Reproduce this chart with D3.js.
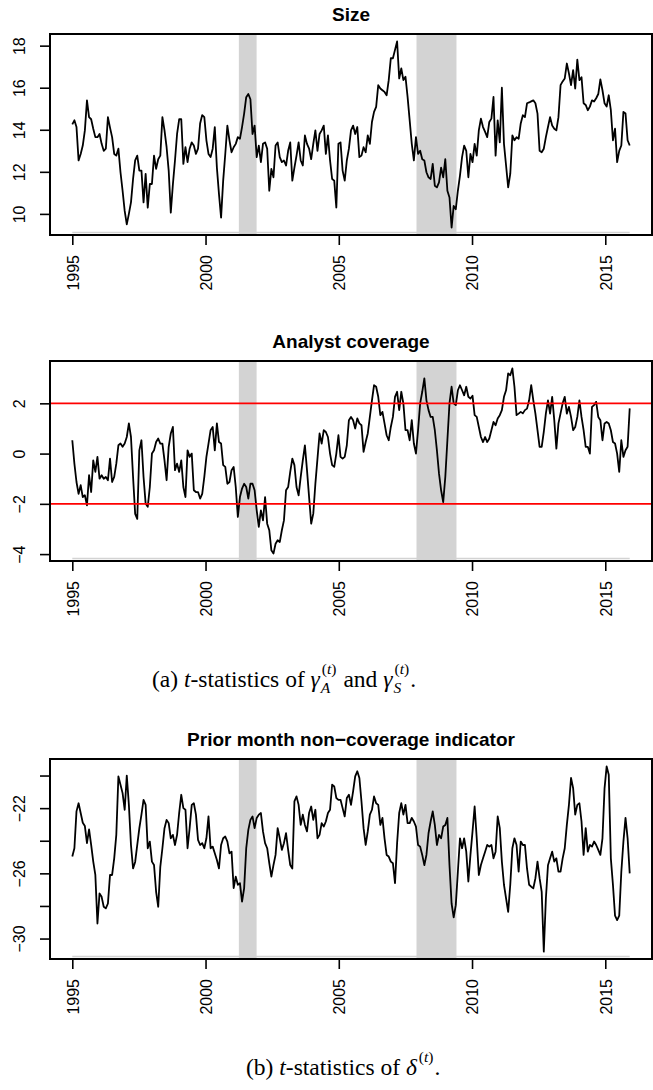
<!DOCTYPE html>
<html>
<head>
<meta charset="utf-8">
<script src="https://d3js.org/d3.v7.min.js"></script>
<style>
body { margin: 0; background: #fff; }
</style>
</head>
<body>
<script>
// monthly t-statistics, Jan 1995 .. Dec 2015
var startYear = 1995;
var endYear = 2015 + 11 / 12;
var yearTicks = [1995, 2000, 2005, 2010, 2015];
var recessions = [[2001 + 3 / 12, 2001 + 11 / 12], [2007 + 11 / 12, 2009 + 5 / 12]];

var sizeValues = [
 14.26,14.45,14.13,12.54,12.85,13.25,13.97,15.4,14.6,14.5,
 14.05,13.65,13.65,13.8,13.33,13.0,13.1,14.6,14.1,13.65,
 12.85,12.77,13.1,11.98,11.1,10.14,9.5,10.0,10.55,11.66,
 12.54,12.77,12.06,12.06,10.55,11.9,10.3,11.42,11.42,12.77,
 12.14,12.6,12.77,14.6,13.97,13.17,12.06,10.06,11.4,12.54,
 13.8,14.5,14.5,12.38,13.17,12.46,13.1,13.4,13.25,12.85,
 13.1,14.3,14.7,14.6,13.5,12.85,12.7,13.1,14.13,12.2,
 10.94,9.82,11.58,12.85,14.2,13.5,12.93,13.17,13.33,13.65,
 13.57,14.13,14.77,15.55,15.7,15.45,13.8,14.2,12.7,13.25,
 12.46,13.33,13.4,13.1,11.1,12.14,11.74,13.25,13.4,12.7,
 12.46,12.54,12.3,13.0,13.4,11.58,12.2,12.77,13.4,12.54,
 12.3,13.73,13.33,13.1,12.6,13.33,13.97,13.0,13.8,13.97,
 14.2,12.85,13.73,12.54,11.66,11.58,10.3,13.33,13.4,12.06,
 11.58,12.54,13.1,13.97,14.2,13.8,14.13,12.7,12.77,13.17,
 12.93,13.73,13.33,14.37,14.85,15.09,16.12,15.96,15.88,15.8,
 15.64,16.36,17.4,17.4,17.8,18.2,16.44,16.92,16.36,16.52,
 15.56,14.45,13.33,12.54,13.65,12.85,13.0,12.6,12.54,11.98,
 11.74,11.66,12.38,11.34,11.26,11.5,12.2,11.74,12.6,11.1,
 10.78,9.35,10.38,10.22,11.1,11.82,12.7,13.25,13.0,11.74,
 12.85,12.46,13.33,12.77,13.97,14.53,14.13,13.9,13.65,14.37,
 14.53,15.56,12.77,14.45,13.4,16.0,13.33,12.3,11.26,11.9,
 13.73,13.5,13.65,13.57,14.3,14.69,14.6,15.26,15.3,15.35,
 15.4,15.26,14.77,13.0,12.93,13.1,13.65,14.13,14.6,14.2,
 14.05,13.97,14.6,16.12,16.3,16.44,17.15,16.68,16.12,16.84,
 15.96,17.34,16.36,16.5,15.26,15.18,14.93,15.1,15.4,15.34,
 15.5,15.7,16.4,15.88,15.26,15.1,15.64,14.93,13.5,14.05,
 12.46,13.0,13.25,14.85,14.77,13.5,13.25
];

var coverageValues = [
 0.53,-0.4,-1.13,-1.6,-1.26,-1.73,-1.66,-2.06,-0.86,-1.53,
 -0.27,-0.73,-0.13,-1.0,-0.86,-1.0,-0.93,-1.06,-0.2,-1.13,
 -0.93,-0.4,0.33,0.4,0.27,0.4,0.66,1.2,0.66,-0.93,
 -2.4,-2.6,0.13,0.53,-0.93,-1.99,-2.12,-1.33,0.0,0.13,
 0.46,0.6,0.4,0.4,-0.27,-1.06,0.27,0.8,1.06,-0.66,
 -0.4,-0.73,-0.27,-1.33,-1.73,0.13,-0.13,0.0,-1.46,-1.53,
 -1.53,-1.79,-1.6,-0.93,-0.13,0.4,0.93,1.06,0.13,1.2,
 0.46,0.4,-0.46,-0.53,-1.2,-1.13,-0.66,-0.53,-1.33,-2.52,
 -1.73,-1.39,-1.2,-1.33,-1.79,-1.2,-1.2,-1.46,-2.26,-2.92,
 -2.26,-2.66,-1.73,-2.79,-3.05,-3.85,-3.98,-3.59,-3.45,-3.52,
 -3.05,-2.66,-1.46,-1.33,-0.73,-0.2,-0.46,-1.33,-1.66,-0.93,
 -0.27,0.33,-0.66,-1.73,-2.79,-2.39,-1.2,-0.2,0.8,0.4,
 0.93,0.86,0.66,0.0,-0.46,-0.53,0.0,0.73,-0.13,-0.2,
 -0.13,0.33,1.33,1.46,1.33,1.0,1.4,1.2,1.13,0.07,
 0.46,0.8,1.46,2.12,2.72,2.66,2.26,1.53,1.66,1.2,
 0.73,0.53,1.06,1.46,2.26,2.46,1.73,2.46,1.99,0.93,
 0.93,0.53,1.33,0.4,0.0,0.93,2.0,2.46,2.99,2.12,
 1.73,1.46,1.46,0.93,0.13,-0.8,-1.46,-1.93,-0.93,0.53,
 2.0,2.66,2.0,1.93,2.52,2.72,2.52,2.32,2.66,2.26,
 2.19,2.3,1.53,1.46,1.06,0.66,0.46,0.66,0.46,0.6,
 0.93,1.26,1.13,1.4,1.53,1.73,2.26,2.52,3.19,3.12,
 3.39,2.66,1.53,1.59,1.66,1.6,1.73,1.79,2.12,2.72,
 2.12,1.59,0.93,0.27,0.27,0.86,1.6,2.12,1.59,2.26,
 1.33,0.2,1.2,1.6,2.0,2.26,1.59,1.86,1.46,0.93,
 1.06,1.46,2.12,1.46,0.93,0.27,0.27,0.0,1.86,1.93,
 2.06,1.46,1.33,0.53,1.2,1.26,1.2,0.93,0.46,0.4,
 0.0,-0.73,0.53,-0.13,0.13,0.27,1.8
];

var nonCoverageValues = [
 -24.97,-24.46,-22.2,-21.7,-22.3,-22.9,-23.1,-24.15,-23.3,-24.26,
 -25.28,-26.1,-29.08,-27.23,-27.44,-28.05,-28.15,-27.85,-26.1,-26.1,
 -25.08,-23.64,-20.05,-20.56,-21.08,-22.1,-20.0,-21.8,-24.26,-25.7,
 -25.3,-24.26,-23.23,-22.4,-21.49,-21.8,-24.46,-24.05,-25.28,-25.49,
 -27.13,-28.05,-25.6,-24.46,-23.23,-22.72,-22.92,-23.85,-23.64,-24.26,
 -23.64,-22.3,-21.18,-22.0,-22.1,-24.46,-23.23,-21.8,-21.7,-22.4,
 -23.95,-24.26,-24.15,-24.46,-23.85,-22.51,-24.46,-24.36,-24.77,-25.18,
 -25.7,-24.26,-23.85,-23.74,-24.05,-24.77,-24.67,-26.9,-26.2,-26.7,
 -26.6,-27.74,-26.92,-24.46,-23.33,-22.72,-22.51,-23.23,-22.6,-22.4,
 -22.3,-23.43,-24.15,-24.46,-25.38,-26.2,-25.5,-24.87,-23.23,-23.85,
 -24.56,-24.15,-23.54,-24.56,-25.49,-25.7,-21.59,-21.28,-21.8,-23.03,
 -22.4,-23.03,-23.43,-22.3,-21.9,-22.72,-22.1,-23.85,-23.64,-22.92,
 -23.13,-22.82,-22.3,-22.1,-20.56,-20.67,-21.38,-21.49,-21.49,-22.0,
 -22.51,-21.38,-21.18,-21.8,-20.97,-20.05,-19.74,-20.15,-21.59,-23.23,
 -24.26,-23.43,-22.4,-22.1,-21.28,-21.7,-21.8,-23.03,-22.6,-23.85,
 -24.87,-24.97,-25.28,-25.38,-26.6,-24.15,-22.3,-21.7,-22.4,-21.8,
 -22.92,-22.92,-22.6,-22.82,-23.13,-24.26,-24.36,-24.87,-25.5,-24.87,
 -23.54,-22.82,-22.2,-23.03,-24.26,-23.64,-23.85,-23.13,-23.03,-22.6,
 -25.5,-27.85,-28.7,-27.95,-25.9,-23.85,-24.46,-23.85,-24.67,-26.5,
 -24.87,-23.43,-21.9,-23.85,-26.1,-25.49,-25.08,-24.67,-24.26,-24.36,
 -24.26,-25.08,-24.67,-22.51,-23.23,-25.28,-26.7,-27.54,-28.36,-26.7,
 -24.46,-23.85,-24.26,-25.9,-24.05,-24.26,-24.26,-25.7,-26.7,-26.82,
 -26.92,-26.3,-25.28,-26.3,-27.13,-30.8,-27.54,-25.5,-25.08,-24.67,
 -25.28,-25.08,-25.9,-25.9,-25.08,-24.46,-23.03,-21.8,-20.15,-20.77,
 -22.4,-21.8,-21.7,-22.82,-24.87,-23.23,-24.67,-24.26,-24.36,-24.05,
 -24.26,-24.56,-24.87,-23.85,-20.77,-19.44,-19.95,-25.08,-26.7,-28.6,
 -28.87,-28.6,-25.9,-24.05,-22.6,-23.85,-26.0
];

var sizeTicks = [10, 12, 14, 16, 18];
var coverageTicks = [-4, -2, 0, 2];
var coverageBands = [-2, 2];
var nonCoverageTicks = [-30, -28, -26, -24, -22, -20];
var nonCoverageLabels = [-30, -26, -22];

var svg;
var x;
var left = 50, right = 652;
var sansFont = "Liberation Sans, Arial, Helvetica, sans-serif";
var serifFont = "Liberation Serif, Times New Roman, serif";

function init() {
  svg = d3.select("body").append("svg")
    .attr("width", 653)
    .attr("height", 1090)
    .style("display", "block");

  svg.append("rect")
    .attr("width", 653)
    .attr("height", 1090)
    .attr("fill", "white");

  // R style axis range: data range plus 4% each side
  var span = endYear - startYear;
  x = d3.scaleLinear()
    .domain([startYear - 0.04 * span, endYear + 0.04 * span])
    .range([left, right]);

  panel({ title: "Size", values: sizeValues, ticks: sizeTicks, labels: sizeTicks, top: 34, bottom: 235, bands: [] });
  panel({ title: "Analyst coverage", values: coverageValues, ticks: coverageTicks, labels: coverageTicks, top: 361, bottom: 561, bands: coverageBands });
  panel({ title: "Prior month non\u2212coverage indicator", values: nonCoverageValues, ticks: nonCoverageTicks, labels: nonCoverageLabels, top: 759, bottom: 959, bands: [] });

  caption(152, 687, [
    { t: "(a) " }, { t: "t", i: true }, { t: "-statistics of " }, { t: "\u03b3", i: true },
    { sup: true, sub: "A" }, { t: " and " }, { t: "\u03b3", i: true }, { sup: true, sub: "S" }, { t: "." }
  ]);
  caption(246, 1075, [
    { t: "(b) " }, { t: "t", i: true }, { t: "-statistics of " }, { t: "\u03b4", i: true },
    { sup: true }, { t: "." }
  ]);
}

function panel(cfg) {
  var g = svg.append("g");
  var n = cfg.values.length;
  var span = endYear - startYear;
  var ext = d3.extent(cfg.values);
  var pad = 0.04 * (ext[1] - ext[0]);
  var y = d3.scaleLinear()
    .domain([ext[0] - pad, ext[1] + pad])
    .range([cfg.bottom, cfg.top]);

  var dates = cfg.values.map(function (v, i) { return startYear + i * span / (n - 1); });

  g.selectAll("rect.rec")
    .data(recessions)
    .enter()
    .append("rect")
    .attr("class", "rec")
    .attr("x", function (d) { return x(d[0]); })
    .attr("width", function (d) { return x(d[1]) - x(d[0]); })
    .attr("y", cfg.top)
    .attr("height", cfg.bottom - cfg.top)
    .attr("fill", "#d3d3d3");

  g.append("line")
    .attr("x1", x(startYear))
    .attr("x2", x(endYear))
    .attr("y1", cfg.bottom - 2.5)
    .attr("y2", cfg.bottom - 2.5)
    .attr("stroke", "#d3d3d3")
    .attr("stroke-width", 1.3);

  var line = d3.line()
    .x(function (d, i) { return x(dates[i]); })
    .y(function (d) { return y(d); });

  g.append("path")
    .datum(cfg.values)
    .attr("d", line)
    .attr("fill", "none")
    .attr("stroke", "black")
    .attr("stroke-width", 1.8)
    .attr("stroke-linejoin", "round");

  g.selectAll("line.band")
    .data(cfg.bands)
    .enter()
    .append("line")
    .attr("class", "band")
    .attr("x1", left)
    .attr("x2", right)
    .attr("y1", function (d) { return y(d); })
    .attr("y2", function (d) { return y(d); })
    .attr("stroke", "#ff0000")
    .attr("stroke-width", 1.6);

  g.append("rect")
    .attr("x", left)
    .attr("y", cfg.top)
    .attr("width", right - left)
    .attr("height", cfg.bottom - cfg.top)
    .attr("fill", "none")
    .attr("stroke", "black")
    .attr("stroke-width", 2);

  // x axis, labels perpendicular
  var xa = g.append("g")
    .attr("transform", "translate(0," + cfg.bottom + ")")
    .call(d3.axisBottom(x).tickValues(yearTicks).tickFormat(d3.format("d")).tickSize(10));
  xa.select(".domain").remove();
  xa.selectAll("line").attr("stroke-width", 1.6);
  xa.selectAll("text")
    .attr("transform", "rotate(-90)")
    .attr("x", -20)
    .attr("y", 0)
    .attr("dy", "0.36em")
    .attr("text-anchor", "end")
    .attr("font-family", sansFont)
    .attr("font-size", "16px")
    .attr("fill", "black");

  // y axis, labels parallel
  var ya = g.append("g")
    .attr("transform", "translate(" + left + ",0)")
    .call(d3.axisLeft(y).tickValues(cfg.ticks).tickSize(10)
      .tickFormat(function (d) { return cfg.labels.indexOf(d) >= 0 ? d3.format("d")(d) : ""; }));
  ya.select(".domain").remove();
  ya.selectAll("line").attr("stroke-width", 1.6);
  ya.selectAll("text")
    .attr("transform", "rotate(-90)")
    .attr("x", 0)
    .attr("y", -25)
    .attr("dy", 0)
    .attr("text-anchor", "middle")
    .attr("font-family", sansFont)
    .attr("font-size", "16px")
    .attr("fill", "black");

  g.append("text")
    .attr("x", (left + right) / 2)
    .attr("y", cfg.top - 13)
    .attr("text-anchor", "middle")
    .attr("font-family", sansFont)
    .attr("font-weight", "bold")
    .attr("font-size", "19px")
    .text(cfg.title);
}

// width of a short run of caption text
function measure(str, italic, size) {
  var t = svg.append("text")
    .attr("font-family", serifFont)
    .attr("font-size", size + "px")
    .attr("font-style", italic ? "italic" : "normal")
    .style("white-space", "pre")
    .text(str);
  var w = t.node().getComputedTextLength();
  t.remove();
  return w;
}

// one text element per caption; scripts are tspans, superscript stacked over subscript
function caption(x0, y0, parts) {
  var base = 23.5, small = 15.5;
  var t = svg.append("text")
    .attr("font-family", serifFont)
    .attr("fill", "black")
    .style("white-space", "pre");
  var cx = x0;
  function piece(str, italic, size, px, py) {
    t.append("tspan")
      .attr("x", px)
      .attr("y", py)
      .attr("font-size", size + "px")
      .attr("font-style", italic ? "italic" : "normal")
      .text(str);
    return measure(str, italic, size);
  }
  parts.forEach(function (p) {
    if (p.sup) {
      var sx = cx + 2;
      var w1 = piece("(", false, small, sx, y0 - 13);
      w1 += piece("t", true, small, sx + w1, y0 - 13);
      w1 += piece(")", false, small, sx + w1, y0 - 13);
      var w2 = p.sub ? piece(p.sub, true, small, cx + 1, y0 + 6) + 1 : 0;
      cx = sx + Math.max(w1, w2) + 1;
    } else {
      cx += piece(p.t, p.i, base, cx, y0);
    }
  });
}

init();
</script>
</body>
</html>
